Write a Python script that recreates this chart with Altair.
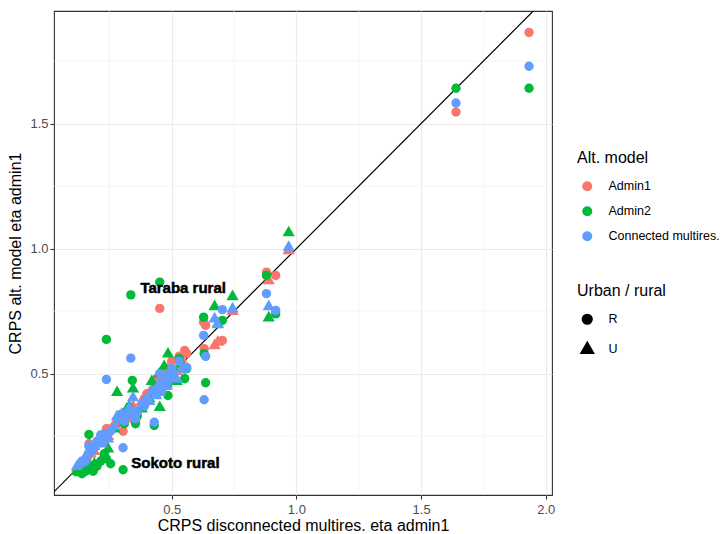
import altair as alt
import pandas as pd

# ---- data ----
x_disc = [1.933, 1.640, 0.969, 0.880, 0.889, 0.917, 0.744, 0.703, 0.628, 0.636,
          0.630, 0.672, 0.685, 0.452, 0.552, 0.560, 0.485, 0.485, 0.452, 0.430,
          0.440, 0.470, 0.500, 0.520, 0.540, 0.410, 0.390, 0.460, 0.505, 0.238,
          0.336, 0.342, 0.281, 0.345, 0.305, 0.270, 0.290, 0.310, 0.320, 0.355,
          0.362, 0.330, 0.300, 0.120, 0.130, 0.140, 0.150, 0.155, 0.165, 0.168,
          0.175, 0.185, 0.190, 0.200, 0.215, 0.220, 0.230, 0.238, 0.245, 0.255,
          0.438, 0.380, 0.400, 0.420, 0.450, 0.500, 0.530, 0.480]
urban_rural = ["R", "R", "U", "R", "U", "R", "U", "R", "R", "R",
               "R", "U", "U", "R", "R", "R", "U", "R", "U", "R",
               "R", "U", "U", "U", "U", "U", "R", "R", "R", "R",
               "R", "R", "U", "U", "R", "U", "U", "R", "U", "R",
               "R", "U", "U", "U", "U", "R", "U", "R", "R", "R",
               "U", "R", "U", "R", "R", "U", "R", "R", "U", "R",
               "U", "U", "R", "U", "U", "R", "R", "U"]
admin1 = [1.864, 1.546, 0.993, 0.906, 0.873, 0.893, 0.750, 0.633, 0.706, 0.693,
          0.600, 0.613, 0.627, 0.761, 0.593, 0.580, 0.520, 0.500, 0.450, 0.440,
          0.480, 0.490, 0.530, 0.510, 0.560, 0.420, 0.400, 0.470, 0.520, 0.280,
          0.340, 0.320, 0.310, 0.370, 0.270, 0.300, 0.310, 0.330, 0.340, 0.310,
          0.350, 0.355, 0.330, 0.120, 0.130, 0.140, 0.150, 0.160, 0.170, 0.220,
          0.180, 0.200, 0.190, 0.220, 0.240, 0.230, 0.260, 0.250, 0.250, 0.280,
          0.450, 0.390, 0.420, 0.440, 0.470, 0.550, 0.570, 0.490]
admin2 = [1.641, 1.641, 1.064, 0.893, 0.724, 0.739, 0.809, 0.713, 0.726, 0.464,
          0.580, 0.769, 0.700, 0.866, 0.480, 0.520, 0.580, 0.413, 0.366, 0.293,
          0.450, 0.530, 0.500, 0.470, 0.540, 0.400, 0.380, 0.440, 0.510, 0.637,
          0.815, 0.473, 0.426, 0.440, 0.116, 0.280, 0.330, 0.300, 0.360, 0.300,
          0.330, 0.370, 0.320, 0.110, 0.105, 0.100, 0.120, 0.110, 0.120, 0.257,
          0.130, 0.110, 0.140, 0.130, 0.150, 0.160, 0.180, 0.160, 0.200, 0.140,
          0.430, 0.360, 0.390, 0.470, 0.500, 0.490, 0.560, 0.460]
connected = [1.729, 1.582, 1.006, 0.820, 0.769, 0.753, 0.760, 0.756, 0.653, 0.569,
             0.396, 0.720, 0.697, 0.500, 0.518, 0.525, 0.500, 0.470, 0.426, 0.306,
             0.440, 0.470, 0.490, 0.480, 0.520, 0.390, 0.370, 0.430, 0.500, 0.477,
             0.562, 0.350, 0.330, 0.405, 0.204, 0.290, 0.320, 0.310, 0.335, 0.320,
             0.345, 0.365, 0.340, 0.130, 0.140, 0.150, 0.160, 0.150, 0.180, 0.210,
             0.190, 0.200, 0.210, 0.230, 0.255, 0.220, 0.260, 0.240, 0.240, 0.270,
             0.413, 0.380, 0.400, 0.430, 0.460, 0.520, 0.550, 0.450]

models = ["Admin1", "Admin2", "Connected multires."]
model_colors = ["#F8766D", "#00BA38", "#619CFF"]
ur_levels = ["R", "U"]
# circle and a slightly enlarged upward triangle (like ggplot's pch 17)
ur_shapes = ["circle", "M0,-1.45L1.3,0.8L-1.3,0.8Z"]

x_ticks = [0.5, 1.0, 1.5, 2.0]
y_ticks = [0.5, 1.0, 1.5]
minor_x = [0.25, 0.75, 1.25, 1.75]
minor_y = [0.25, 0.75, 1.25, 1.75]

# labelled points: (label, row index, model)
label_names = ["Taraba rural", "Sokoto rural"]
label_rows = [30, 34]
label_models = ["Admin2", "Admin2"]
nudge_x, nudge_y = 0.21, 0.026

# ---- build tables ----
rows = []
for m, ys in zip(models, [admin1, admin2, connected]):
    for xv, u, yv in zip(x_disc, urban_rural, ys):
        rows.append({"x": xv, "y": yv, "model": m, "ur": u})
df = pd.DataFrame(rows)

series = {"Admin1": admin1, "Admin2": admin2, "Connected multires.": connected}
lab = pd.DataFrame({
    "x": [x_disc[i] + nudge_x for i in label_rows],
    "y": [series[m][i] + nudge_y for i, m in zip(label_rows, label_models)],
    "text": label_names,
})

diag = pd.DataFrame({"v": [0.0, 2.1]})
mx = pd.DataFrame({"v": minor_x})
my = pd.DataFrame({"v": minor_y})

xs = alt.Scale(domain=[0.028, 2.025], nice=False, zero=False)
ys_ = alt.Scale(domain=[0.015, 1.95], nice=False, zero=False)
x_title = "CRPS disconnected multires. eta admin1"
y_title = "CRPS alt. model eta admin1"
x_axis = alt.Axis(values=x_ticks, format=".1f", title=x_title)
y_axis = alt.Axis(values=y_ticks, format=".1f", title=y_title)

grid_minor_x = alt.Chart(mx).mark_rule(color="#F2F2F2", strokeWidth=0.7).encode(
    x=alt.X("v:Q", scale=xs, axis=x_axis)
)
grid_minor_y = alt.Chart(my).mark_rule(color="#F2F2F2", strokeWidth=0.7).encode(
    y=alt.Y("v:Q", scale=ys_, axis=y_axis)
)

line = alt.Chart(diag).mark_line(color="black", strokeWidth=1.2, clip=True).encode(
    x=alt.X("v:Q", scale=xs, axis=x_axis),
    y=alt.Y("v:Q", scale=ys_, axis=y_axis),
)

points = alt.Chart(df).mark_point(filled=True, opacity=1, size=88).encode(
    x=alt.X("x:Q", scale=xs, axis=x_axis),
    y=alt.Y("y:Q", scale=ys_, axis=y_axis),
    color=alt.Color(
        "model:N",
        scale=alt.Scale(domain=models, range=model_colors),
        legend=alt.Legend(
            title="Alt. model", orient="none", legendX=523, legendY=139,
            symbolType="circle", symbolSize=100, symbolOffset=4, labelOffset=15,
            rowPadding=12, titlePadding=14,
        ),
    ),
    shape=alt.Shape(
        "ur:N",
        scale=alt.Scale(domain=ur_levels, range=ur_shapes),
        legend=alt.Legend(
            title="Urban / rural", orient="none", legendX=523, legendY=272,
            symbolSize=95, symbolOffset=4, labelOffset=15,
            symbolFillColor="black", symbolStrokeColor="black",
            rowPadding=11, titlePadding=14,
        ),
    ),
)

text = alt.Chart(lab).mark_text(
    font="Liberation Sans", fontSize=15, fontWeight="bold", color="black",
    stroke="black", strokeWidth=0.5,
).encode(
    x=alt.X("x:Q", scale=xs, axis=x_axis),
    y=alt.Y("y:Q", scale=ys_, axis=y_axis),
    text="text:N",
)

chart = (
    alt.layer(grid_minor_x, grid_minor_y, line, points, text)
    .properties(
        width=498, height=484,
        padding={"left": 46, "top": 3, "right": 167, "bottom": 39},
        autosize=alt.AutoSizeParams(type="none"),
    )
    .configure_view(stroke="#333333", strokeWidth=1.1)
    .configure_axis(
        domain=False, grid=True, gridColor="#EBEBEB", gridWidth=1.1,
        tickColor="#333333", tickSize=4, tickWidth=1.1,
        labelColor="#4D4D4D", labelFont="Liberation Sans", labelFontSize=13,
        titleFont="Liberation Sans", titleFontSize=16, titleFontWeight="normal",
        titleColor="black",
    )
    .configure_axisX(labelPadding=4, titlePadding=1)
    .configure_axisY(labelPadding=2, titlePadding=6)
    .configure_legend(
        titleFont="Liberation Sans", titleFontSize=16, titleFontWeight="normal",
        titleColor="black", labelFont="Liberation Sans", labelFontSize=12.5,
        labelColor="black",
    )
)

chart.save("out.html", embed_options={"renderer": "svg", "actions": False})
